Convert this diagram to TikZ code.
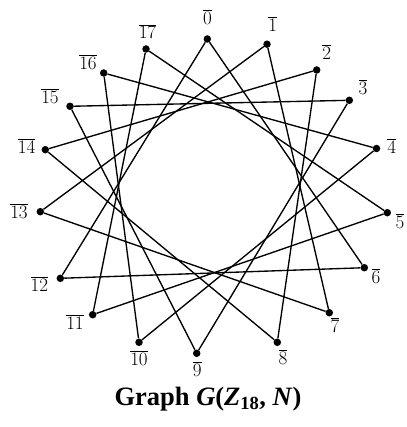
\RequirePackage{fix-cm}
\documentclass[tikz,border=0pt]{standalone}
\usepackage{fontspec}
\newfontfamily\capfont{Liberation Serif}
\begin{document}
\begin{tikzpicture}[x=1pt,y=-1pt,
  vdot/.style={circle,fill=black,inner sep=0pt,minimum size=7.5pt},
  lab/.style={inner sep=0pt,font=\fontsize{19}{21}\selectfont},
  edge/.style={line width=1.35pt,black}]
\useasboundingbox (0,0) rectangle (406,427);
% vertices
\node[vdot] (v0) at (207.3,39) {};
\node[vdot] (v1) at (267,44.2) {};
\node[vdot] (v2) at (316.7,70) {};
\node[vdot] (v3) at (349.3,100.3) {};
\node[vdot] (v4) at (376.5,148.5) {};
\node[vdot] (v5) at (387.3,212.7) {};
\node[vdot] (v6) at (364.3,267.7) {};
\node[vdot] (v7) at (329.3,312.7) {};
\node[vdot] (v8) at (277.3,342.3) {};
\node[vdot] (v9) at (196.7,353.3) {};
\node[vdot] (v10) at (139,342.3) {};
\node[vdot] (v11) at (92.7,314.7) {};
\node[vdot] (v12) at (60.3,278.3) {};
\node[vdot] (v13) at (40.3,211.7) {};
\node[vdot] (v14) at (45.3,149.7) {};
\node[vdot] (v15) at (70,106.3) {};
\node[vdot] (v16) at (103.7,73) {};
\node[vdot] (v17) at (146,49) {};
% labels
\node[lab] (l0) at (207.5,17) {$\overline{0}$};
\node[lab] (l1) at (272.7,24) {$\overline{1}$};
\node[lab] (l2) at (326.7,52) {$\overline{2}$};
\node[lab] (l3) at (363,87) {$\overline{3}$};
\node[lab] (l4) at (391.7,146) {$\overline{4}$};
\node[lab] (l5) at (400,221) {$\overline{5}$};
\node[lab] (l6) at (376,276) {$\overline{6}$};
\node[lab] (l7) at (335,325) {$\overline{7}$};
\node[lab] (l8) at (283,357) {$\overline{8}$};
\node[lab] (l9) at (197.3,369) {$\overline{9}$};
\node[lab] (l10) at (139,358) {$\overline{10}$};
\node[lab] (l11) at (75,322) {$\overline{11}$};
\node[lab] (l12) at (39.3,284) {$\overline{12}$};
\node[lab] (l13) at (19,211) {$\overline{13}$};
\node[lab] (l14) at (26.7,146) {$\overline{14}$};
\node[lab] (l15) at (50,96) {$\overline{15}$};
\node[lab] (l16) at (88,62) {$\overline{16}$};
\node[lab] (l17) at (147.5,31.5) {$\overline{17}$};
% edges: x ~ x+6
\foreach \a/\b in {0/6,6/12,12/0,1/7,7/13,13/1,2/8,8/14,14/2,3/9,9/15,15/3,4/10,10/16,16/4,5/11,11/17,17/5}
  \draw[edge] (v\a) -- (v\b);
% caption
\node[inner sep=0pt,font=\capfont\bfseries\fontsize{26.5}{29}\selectfont] (cap) at (208,399)
  {Graph \textit{G}(\textit{Z}\textsubscript{18}, \textit{N})};
\end{tikzpicture}
\end{document}
